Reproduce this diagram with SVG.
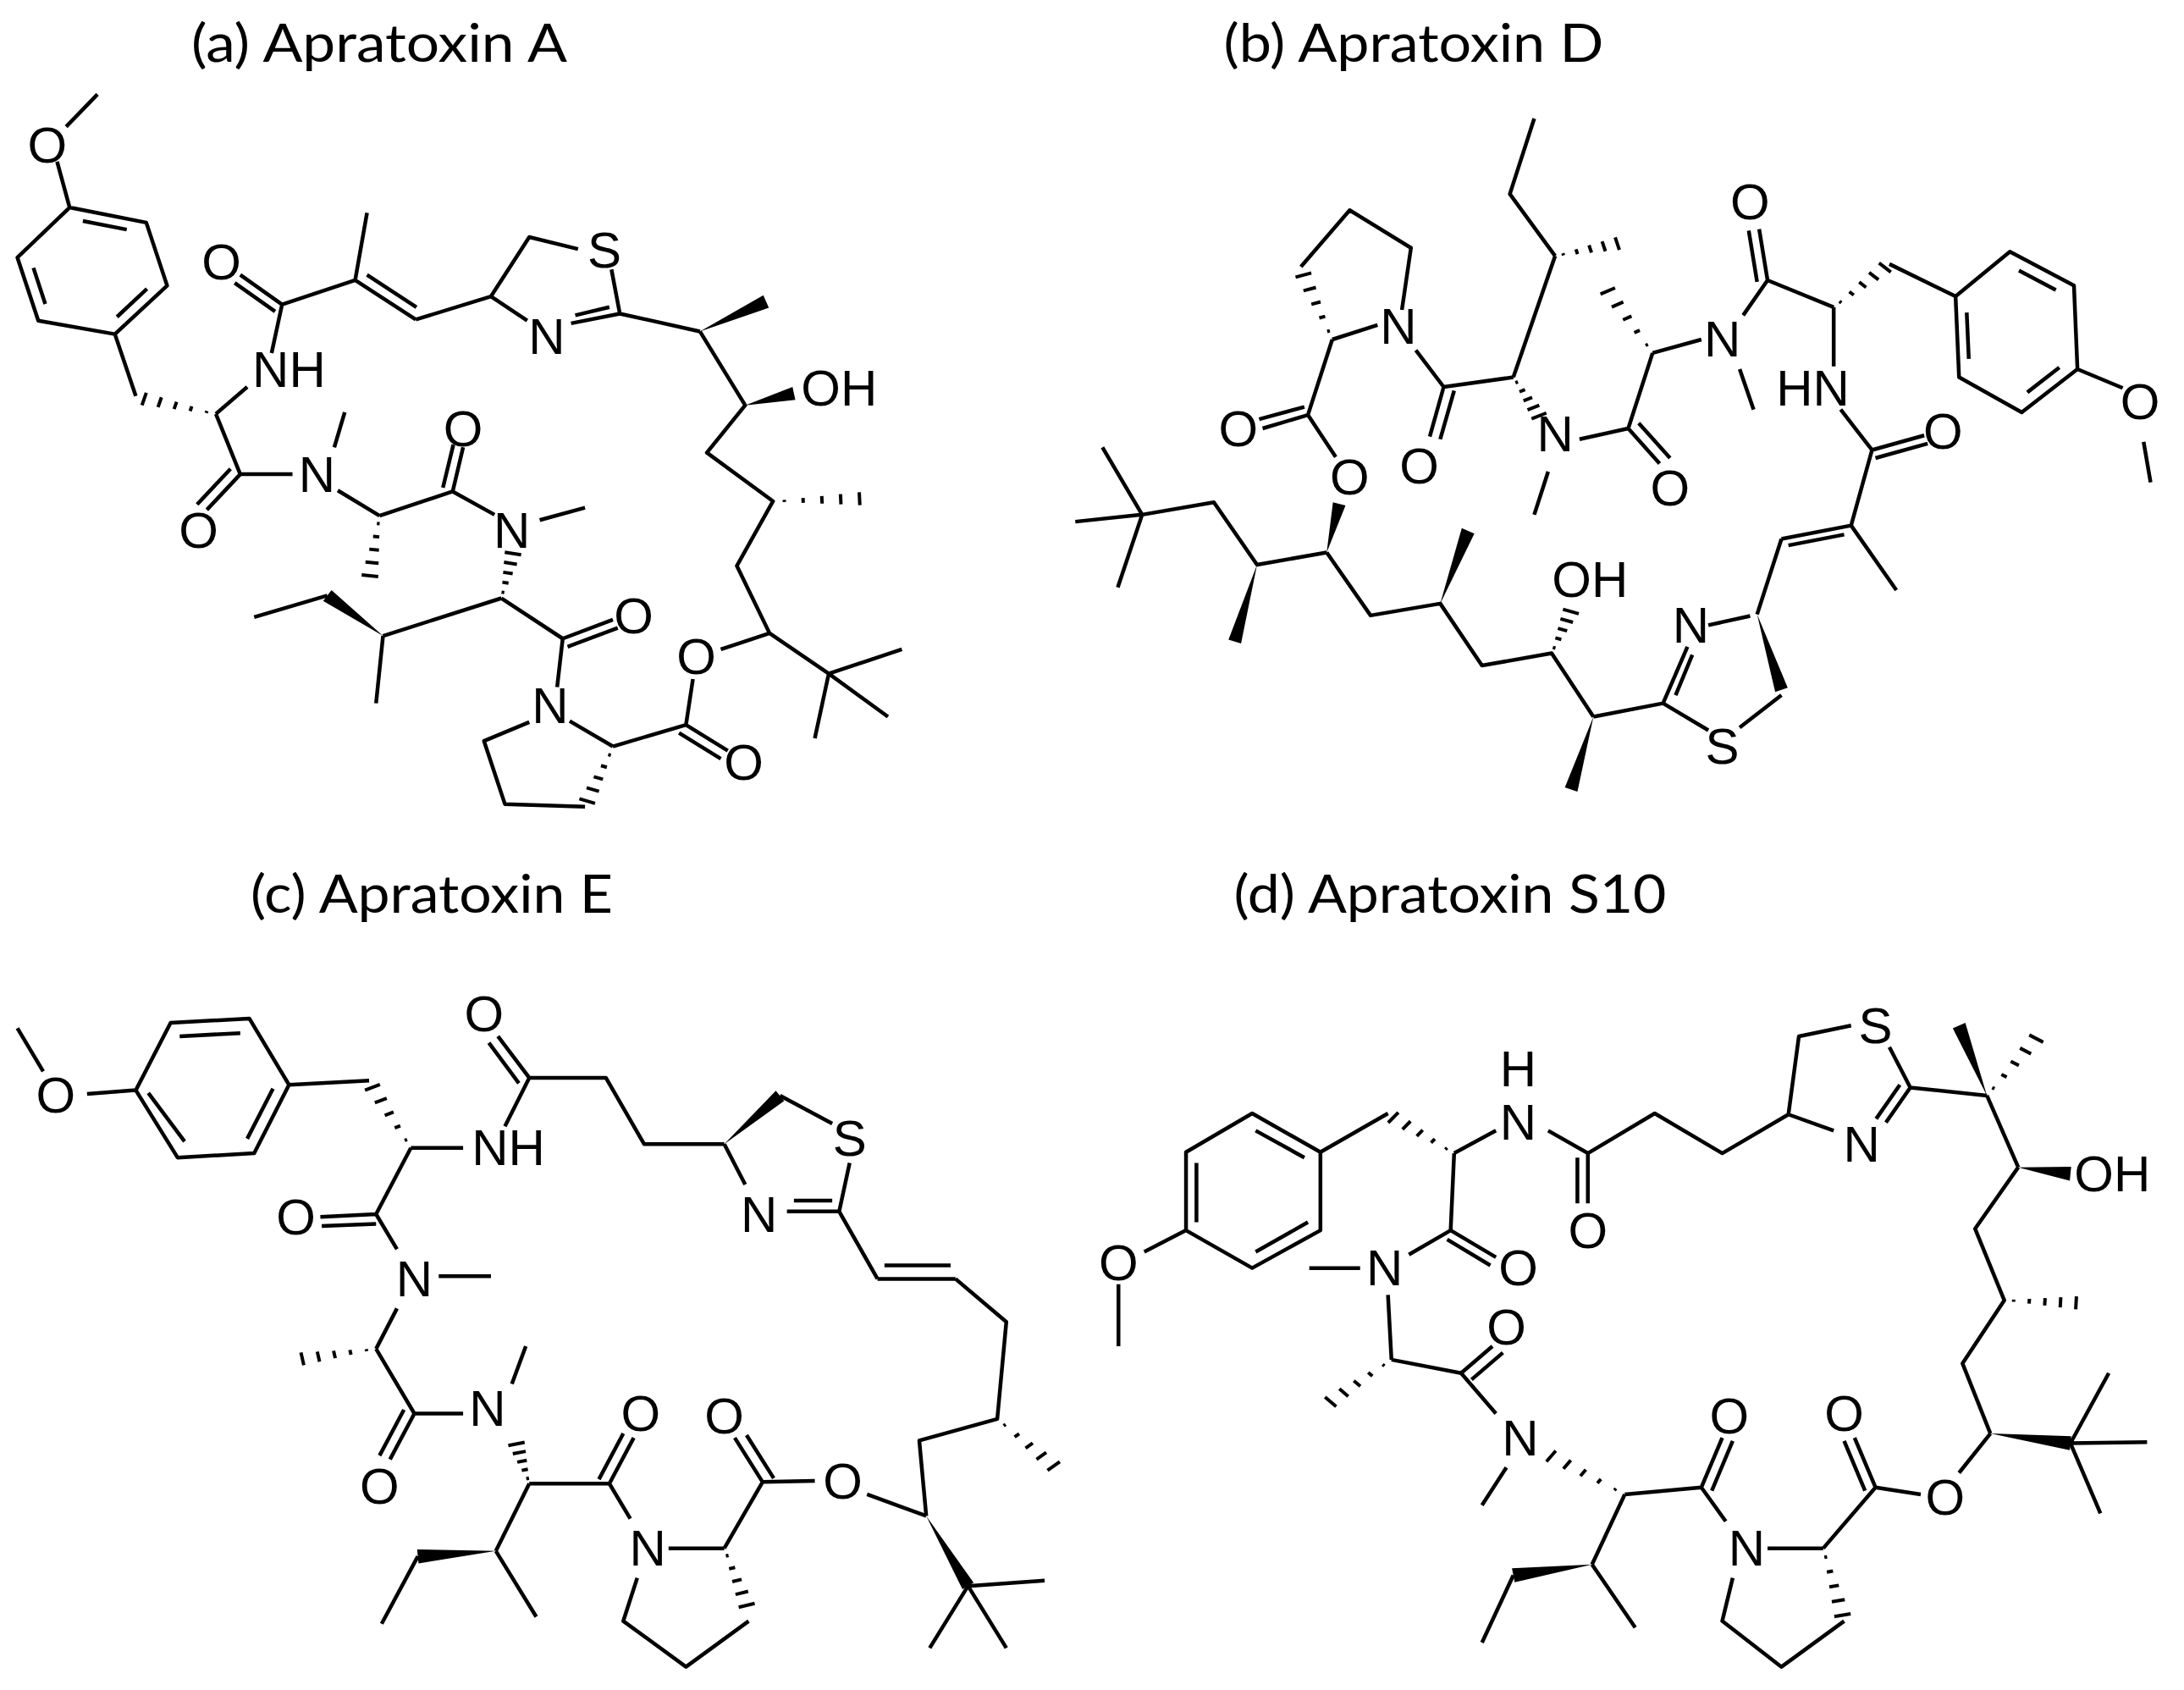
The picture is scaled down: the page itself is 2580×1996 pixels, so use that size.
<svg xmlns="http://www.w3.org/2000/svg" xmlns:xlink="http://www.w3.org/1999/xlink" width="2580" height="1996" viewBox="0 0 2580 1996">
<style>
.m path.b{stroke:#000;stroke-width:4.5;fill:none;vector-effect:non-scaling-stroke;stroke-linejoin:round}
.m polygon{fill:#000}
.h{stroke:#000;stroke-width:4;fill:none;vector-effect:non-scaling-stroke}
.t{font-family:"Liberation Sans",Arial,sans-serif;font-size:60px;text-anchor:middle;dominant-baseline:central;fill:#000}
.ti{font-family:Lato,"Open Sans",sans-serif;font-size:62px;text-anchor:middle;fill:#000}
</style>
<defs>
<path id="hash" class="h" d="M0.12,-2V2M0.32,-4.5V4.5M0.52,-7V7M0.72,-9.5V9.5M0.92,-12V12"/>
</defs>
<rect width="2580" height="1996" fill="#fff"/>
<text class="ti" x="448" y="73" textLength="444" lengthAdjust="spacingAndGlyphs">(a) Apratoxin A</text>
<text class="ti" x="1670" y="73" textLength="449" lengthAdjust="spacingAndGlyphs">(b) Apratoxin D</text>
<text class="ti" x="510" y="1078" textLength="428" lengthAdjust="spacingAndGlyphs">(c) Apratoxin E</text>
<text class="ti" x="1713" y="1078" textLength="511" lengthAdjust="spacingAndGlyphs">(d) Apratoxin S10</text>

<g id="apratoxinA" class="m" transform="translate(0,0) scale(0.8227,0.6365)">
<path class="b" d="M140,175L95,235 M82,300L100,385 M100,385L210,413L240,530L165,620L55,595L25,478Z M119,410L182,426 M211,536L168,588 M65,564L48,497 M165,620L195,735 M310,768L355,718 M390,655L405,565 M405,565L345,510 M395,578L337,525 M405,565L510,520 M510,520L527,395 M510,520L597,593 M527,510L598,570 M597,593L705,550 M705,550L760,440L830,462 M878,500L890,582 M705,550L757,595 M820,600L890,582 M826,585L875,570 M890,582L1005,615 M1005,615L1070,752L1015,840L1110,930L1058,1050L1105,1175 M1105,1175L1035,1205 M1105,1175L1190,1250 M1190,1250L1295,1205 M1190,1250L1275,1330 M1190,1250L1170,1370 M995,1260L985,1345 M985,1345L1045,1393 M975,1360L1035,1408 M985,1345L880,1385 M818,1338L880,1385 M760,1340L695,1375L725,1492L840,1497 M800,1275L808,1185 M808,1185L880,1150 M815,1200L887,1165 M808,1185L720,1110 M775,965L840,942 M710,955L650,912 M650,912L665,830 M636,905L651,825 M650,912L545,957 M545,957L485,910 M480,830L495,765 M420,880L345,880 M345,880L310,768 M345,880L297,946 M331,870L283,936 M720,1110L550,1180 M470,1105L365,1145 M550,1180L540,1305"/>
<polygon points="1005,615 1104,571 1096,548"/>
<polygon points="1070,752 1142,742 1138,718"/>
<polygon points="550,1180 476,1095 464,1115"/>
<use href="#hash" transform="matrix(-112,-30,0.259,-0.966,310,768)"/>
<use href="#hash" transform="matrix(135,-5,0.037,1,1110,930)"/>
<use href="#hash" transform="matrix(-15,121,-0.992,-0.123,545,957)"/>
<use href="#hash" transform="matrix(18,-90,0.978,0.196,720,1110)"/>
<use href="#hash" transform="matrix(-40,107,-0.939,-0.351,880,1388)"/>
<g>
<text class="t" transform="translate(68,270) scale(1.2155,1.571)">O</text>
<text class="t" transform="translate(318,487) scale(1.2155,1.571)">O</text>
<text class="t" transform="translate(415,685) scale(1.2155,1.571)">NH</text>
<text class="t" transform="translate(868,465) scale(1.2155,1.571)">S</text>
<text class="t" transform="translate(785,625) scale(1.2155,1.571)">N</text>
<text class="t" transform="translate(1205,720) scale(1.2155,1.571)">OH</text>
<text class="t" transform="translate(455,880) scale(1.2155,1.571)">N</text>
<text class="t" transform="translate(285,985) scale(1.2155,1.571)">O</text>
<text class="t" transform="translate(665,795) scale(1.2155,1.571)">O</text>
<text class="t" transform="translate(735,985) scale(1.2155,1.571)">N</text>
<text class="t" transform="translate(910,1143) scale(1.2155,1.571)">O</text>
<text class="t" transform="translate(790,1310) scale(1.2155,1.571)">N</text>
<text class="t" transform="translate(1000,1218) scale(1.2155,1.571)">O</text>
<text class="t" transform="translate(1068,1415) scale(1.2155,1.571)">O</text>
</g>
</g>

<g id="apratoxinD" class="m" transform="translate(1290,0) scale(0.8227,0.6365)">
<path class="b" d="M635,220L600,360L665,475 M665,475L605,700 M410,603L345,630 M445,575L458,460L370,390L300,495 M465,650L505,718 M505,718L485,810 M520,725L500,815 M505,718L605,700 M655,875L635,955 M700,815L770,795 M770,795L815,860 M785,785L830,850 M770,795L805,655 M805,655L875,630 M930,685L950,760 M935,585L970,520 M970,520L958,425 M955,523L943,428 M970,520L1065,570 M1145,490L1240,550 M1240,550L1318,467L1410,530L1415,685L1335,765L1245,700Z M1331,502L1384,538 M1389,682L1343,728 M1259,666L1256,580 M1415,685L1480,720 M1510,820L1520,895 M1065,570L1065,680 M1075,760L1120,835 M1120,835L1195,808 M1125,850L1200,823 M1120,835L1090,975 M1090,975L1155,1095 M1090,975L990,1000 M1080,992L1000,1012 M990,1000L955,1140 M945,1143L885,1160 M855,1200L820,1305 M862,1215L838,1290 M820,1305L885,1355 M930,1350L990,1290 M820,1305L720,1330 M720,1330L660,1212L560,1235L500,1120L400,1142L337,1025 M350,848L310,770L345,630 M310,770L245,795 M305,755L240,778 M337,1025L237,1048L175,932L72,955 M72,955L15,830 M72,955L-24,968 M72,955L37,1090"/>
<polygon points="955,1140 999,1276 981,1284"/>
<polygon points="720,1330 697,1469 679,1461"/>
<polygon points="500,1120 549,990 531,980"/>
<polygon points="337,1025 364,938 346,932"/>
<polygon points="237,1048 214,1194 196,1187"/>
<use href="#hash" transform="matrix(97,-25,0.25,0.97,665,475)"/>
<use href="#hash" transform="matrix(-45,-130,0.942,-0.326,345,630)"/>
<use href="#hash" transform="matrix(40,78,-0.886,0.455,605,700)"/>
<use href="#hash" transform="matrix(-70,-125,0.874,-0.49,805,655)"/>
<use href="#hash" transform="matrix(80,-80,0.708,0.708,1065,570)"/>
<use href="#hash" transform="matrix(30,-84,0.944,0.337,660,1212)"/>
<g>
<text class="t" transform="translate(440,605) scale(1.2155,1.571)">N</text>
<text class="t" transform="translate(470,865) scale(1.2155,1.571)">O</text>
<text class="t" transform="translate(210,795) scale(1.2155,1.571)">O</text>
<text class="t" transform="translate(370,885) scale(1.2155,1.571)">O</text>
<text class="t" transform="translate(665,805) scale(1.2155,1.571)">N</text>
<text class="t" transform="translate(830,905) scale(1.2155,1.571)">O</text>
<text class="t" transform="translate(905,630) scale(1.2155,1.571)">N</text>
<text class="t" transform="translate(945,375) scale(1.2155,1.571)">O</text>
<text class="t" transform="translate(1035,720) scale(1.2155,1.571)">HN</text>
<text class="t" transform="translate(1222,800) scale(1.2155,1.571)">O</text>
<text class="t" transform="translate(1505,745) scale(1.2155,1.571)">O</text>
<text class="t" transform="translate(860,1160) scale(1.2155,1.571)">N</text>
<text class="t" transform="translate(905,1385) scale(1.2155,1.571)">S</text>
<text class="t" transform="translate(715,1075) scale(1.2155,1.571)">OH</text>
</g>
</g>

<g id="apratoxinE" class="m" transform="translate(0,998) scale(0.8227,0.6365)">
<path class="b" d="M25,340L62,420 M125,462L195,455 M195,455L245,330L358,322L415,445L365,572L255,580Z M258,355L345,349 M392,452L355,545 M213,460L265,550 M415,445L530,437 M590,562L665,562 M725,522L760,432 M760,432L715,355 M745,442L702,367 M760,432L870,432L925,555L1040,555 M1120,465L1195,517 M1220,590L1205,680 M1205,680L1130,680 M1195,660L1140,660 M1040,555L1070,630 M1205,680L1260,805 M1260,805L1372,805 M1270,780L1365,780 M1372,805L1445,885L1432,1065L1320,1105L1330,1245 M1390,1375L1500,1365 M1390,1375L1445,1490 M1390,1375L1335,1490 M1330,1245L1245,1205 M1170,1180L1095,1182 M1095,1182L1055,1100 M1111,1175L1072,1095 M1095,1182L1040,1305 M1040,1305L960,1305 M915,1360L895,1440L985,1525L1075,1440 M905,1250L875,1185 M875,1185L910,1100 M860,1177L895,1092 M875,1185L760,1185 M735,1000L755,930 M665,1055L595,1055 M595,1055L560,1140 M580,1048L545,1133 M595,1055L540,935 M540,935L570,860 M630,800L705,800 M570,750L540,685 M540,685L460,690 M540,703L462,707 M540,685L590,562 M760,1185L712,1310 M600,1320L548,1445 M712,1310L770,1432"/>
<polygon points="1040,555 1126,475 1114,456"/>
<polygon points="1330,1245 1398,1369 1382,1381"/>
<polygon points="712,1310 601,1333 599,1307"/>
<use href="#hash" transform="matrix(-60,-122,0.897,-0.441,590,562)"/>
<use href="#hash" transform="matrix(88,95,-0.736,0.682,1432,1065)"/>
<use href="#hash" transform="matrix(35,115,-0.958,0.292,1040,1305)"/>
<use href="#hash" transform="matrix(-20,-80,0.976,-0.244,760,1185)"/>
<use href="#hash" transform="matrix(-115,20,-0.171,-0.983,540,935)"/>
<g>
<text class="t" transform="translate(80,465) scale(1.2155,1.571)">O</text>
<text class="t" transform="translate(730,562) scale(1.2155,1.571)">NH</text>
<text class="t" transform="translate(695,313) scale(1.2155,1.571)">O</text>
<text class="t" transform="translate(1220,545) scale(1.2155,1.571)">S</text>
<text class="t" transform="translate(1090,685) scale(1.2155,1.571)">N</text>
<text class="t" transform="translate(1210,1180) scale(1.2155,1.571)">O</text>
<text class="t" transform="translate(1040,1060) scale(1.2155,1.571)">O</text>
<text class="t" transform="translate(930,1305) scale(1.2155,1.571)">N</text>
<text class="t" transform="translate(920,1055) scale(1.2155,1.571)">O</text>
<text class="t" transform="translate(700,1045) scale(1.2155,1.571)">N</text>
<text class="t" transform="translate(545,1190) scale(1.2155,1.571)">O</text>
<text class="t" transform="translate(595,805) scale(1.2155,1.571)">N</text>
<text class="t" transform="translate(425,690) scale(1.2155,1.571)">O</text>
</g>
</g>

<g id="apratoxinS10" class="m" transform="translate(1290,998) scale(0.8227,0.6365)">
<path class="b" d="M38,930L38,815 M75,755L135,715 M135,715L135,570L230,498L328,570L328,715L230,785Z M150,590L150,700 M235,530L305,580 M235,755L310,700 M328,570L425,498 M520,572L580,530 M655,530L712,572 M712,572L712,665 M697,580L697,665 M712,572L808,498L905,572L1000,500 M1000,500L1015,355L1090,335 M1145,375L1175,450 M1175,450L1140,515 M1160,445L1126,508 M1000,500L1065,530 M1175,450L1285,465 M1285,465L1330,598 M1330,598L1268,712L1310,845L1250,962L1290,1092 M1405,1110L1460,980 M1405,1110L1515,1108 M1405,1110L1448,1240 M1290,1092L1245,1165 M1190,1205L1125,1192 M1125,1192L1095,1100 M1110,1198L1080,1106 M1125,1192L1050,1305 M1050,1305L970,1305 M920,1360L905,1440L990,1525L1080,1440 M910,1255L875,1192 M875,1192L905,1100 M890,1198L920,1106 M875,1192L765,1205 M595,1155L560,1225 M580,1055L530,980 M530,980L575,930 M545,992L590,942 M530,980L430,955 M430,955L425,835 M385,785L312,785 M455,760L515,715 M515,715L580,765 M510,732L572,780 M515,715L520,572 M765,1205L718,1335 M605,1355L560,1480 M718,1335L780,1452"/>
<polygon points="1285,465 1254,330 1236,340"/>
<polygon points="1330,598 1406,597 1404,623"/>
<polygon points="1290,1092 1406,1097 1404,1123"/>
<polygon points="718,1335 607,1368 603,1342"/>
<use href="#hash" transform="matrix(-95,-72,0.605,-0.798,520,572)"/>
<use href="#hash" transform="matrix(77,-115,0.833,0.558,1285,465)"/>
<use href="#hash" transform="matrix(112,5,-0.045,1,1310,845)"/>
<use href="#hash" transform="matrix(30,135,-0.978,0.217,1050,1305)"/>
<use href="#hash" transform="matrix(-115,-77,0.558,-0.833,765,1205)"/>
<use href="#hash" transform="matrix(-95,85,-0.669,-0.748,430,955)"/>
<g>
<text class="t" transform="translate(38,775) scale(1.2155,1.571)">O</text>
<text class="t" transform="translate(612,515) scale(1.2155,1.571)">N</text>
<text class="t" transform="translate(612,415) scale(1.2155,1.571)">H</text>
<text class="t" transform="translate(712,715) scale(1.2155,1.571)">O</text>
<text class="t" transform="translate(1125,335) scale(1.2155,1.571)">S</text>
<text class="t" transform="translate(1105,555) scale(1.2155,1.571)">N</text>
<text class="t" transform="translate(1465,610) scale(1.2155,1.571)">OH</text>
<text class="t" transform="translate(1225,1210) scale(1.2155,1.571)">O</text>
<text class="t" transform="translate(1080,1055) scale(1.2155,1.571)">O</text>
<text class="t" transform="translate(940,1305) scale(1.2155,1.571)">N</text>
<text class="t" transform="translate(915,1060) scale(1.2155,1.571)">O</text>
<text class="t" transform="translate(615,1100) scale(1.2155,1.571)">N</text>
<text class="t" transform="translate(595,895) scale(1.2155,1.571)">O</text>
<text class="t" transform="translate(420,785) scale(1.2155,1.571)">N</text>
<text class="t" transform="translate(612,785) scale(1.2155,1.571)">O</text>
</g>
</g>
</svg>
